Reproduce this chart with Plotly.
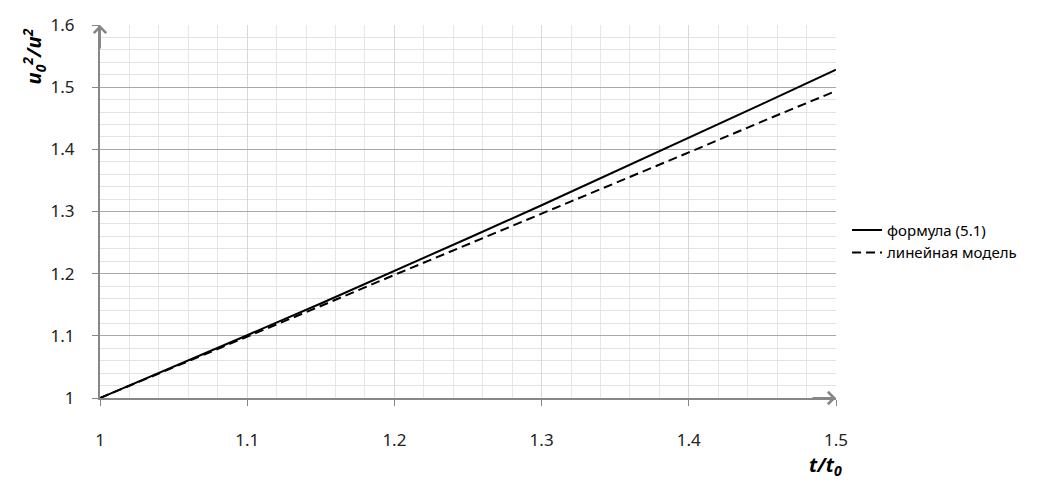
import plotly.graph_objects as go

# ================================
# data
# ================================

t_ratio = [1.00, 1.05, 1.10, 1.15, 1.20, 1.25, 1.30, 1.35, 1.40, 1.45, 1.50]
formula_51 = [1.000, 1.050, 1.101, 1.152, 1.204, 1.257, 1.310, 1.364, 1.418, 1.473, 1.528]
linear_model = [1.000, 1.049, 1.099, 1.148, 1.198, 1.247, 1.296, 1.346, 1.395, 1.445, 1.494]

x_ticks = [1, 1.1, 1.2, 1.3, 1.4, 1.5]
x_labels = ['1', '1.1', '1.2', '1.3', '1.4', '1.5']
y_ticks = [1, 1.1, 1.2, 1.3, 1.4, 1.5, 1.6]
y_labels = ['1', '1.1', '1.2', '1.3', '1.4', '1.5', '1.6']

FONT = 'Noto Sans'
AXIS = '#878787'

fig = go.Figure()
fig.add_trace(go.Scatter(x=t_ratio, y=formula_51, mode='lines',
                         name='формула (5.1)',
                         line=dict(color='black', width=2)))
fig.add_trace(go.Scatter(x=t_ratio, y=linear_model, mode='lines',
                         name='линейная модель',
                         line=dict(color='black', width=2, dash='9px,5px')))

fig.update_xaxes(range=[1, 1.5], tickvals=x_ticks, ticktext=x_labels,
                 automargin=False,
                 showline=True, linecolor=AXIS, linewidth=2,
                 ticks='outside', ticklen=6, tickcolor=AXIS, tickwidth=1,
                 ticklabelstandoff=20,
                 tickfont=dict(family=FONT, size=17, color='#222222'),
                 showgrid=True, gridcolor='#d9d9d9', gridwidth=1,
                 minor=dict(dtick=0.02, showgrid=True, gridcolor='#e6e6e6', gridwidth=1),
                 zeroline=False)
fig.update_yaxes(range=[1, 1.6], tickvals=y_ticks, ticktext=y_labels,
                 automargin=False,
                 showline=True, linecolor=AXIS, linewidth=2,
                 ticks='outside', ticklen=6, tickcolor=AXIS, tickwidth=1,
                 ticklabelstandoff=14,
                 tickfont=dict(family=FONT, size=17, color='#222222'),
                 showgrid=True, gridcolor='#a8a8a8', gridwidth=1,
                 minor=dict(dtick=0.02, showgrid=True, gridcolor='#e3e3e3', gridwidth=1),
                 zeroline=False)

# axis arrows
fig.add_annotation(x=0, y=1, xref='paper', yref='paper', text='', showarrow=True,
                   ax=0, ay=25, arrowhead=4, arrowsize=1.2, arrowwidth=2,
                   arrowcolor=AXIS, standoff=0)
fig.add_annotation(x=1, y=0, xref='paper', yref='paper', text='', showarrow=True,
                   ax=-25, ay=0, arrowhead=4, arrowsize=1.2, arrowwidth=2,
                   arrowcolor=AXIS, standoff=0)

# axis titles
fig.add_annotation(x=-0.09, y=0.915, xref='paper', yref='paper', showarrow=False,
                   textangle=-90, xanchor='center', yanchor='middle',
                   text='<b><i>u<sub>0</sub><sup>2</sup>/u<sup>2</sup></i></b>',
                   font=dict(family=FONT, size=20, color='black'))
fig.add_annotation(x=0.986, y=-0.182, xref='paper', yref='paper', showarrow=False,
                   xanchor='center', yanchor='middle',
                   text='<b><i>t/t<sub>0</sub></i></b>',
                   font=dict(family=FONT, size=20, color='black'))

# the page body adds 8px around the figure
fig.update_layout(width=1035, height=477,
                  margin=dict(l=92, r=207, t=17, b=87),
                  plot_bgcolor='white', paper_bgcolor='white',
                  font=dict(family=FONT, size=15, color='#222222'),
                  legend=dict(x=1.015, y=0.42, xanchor='left', yanchor='middle',
                              itemwidth=30, tracegroupgap=0,
                              font=dict(family=FONT, size=15, color='black'),
                              bgcolor='rgba(0,0,0,0)'))

fig.write_html("out.html")
